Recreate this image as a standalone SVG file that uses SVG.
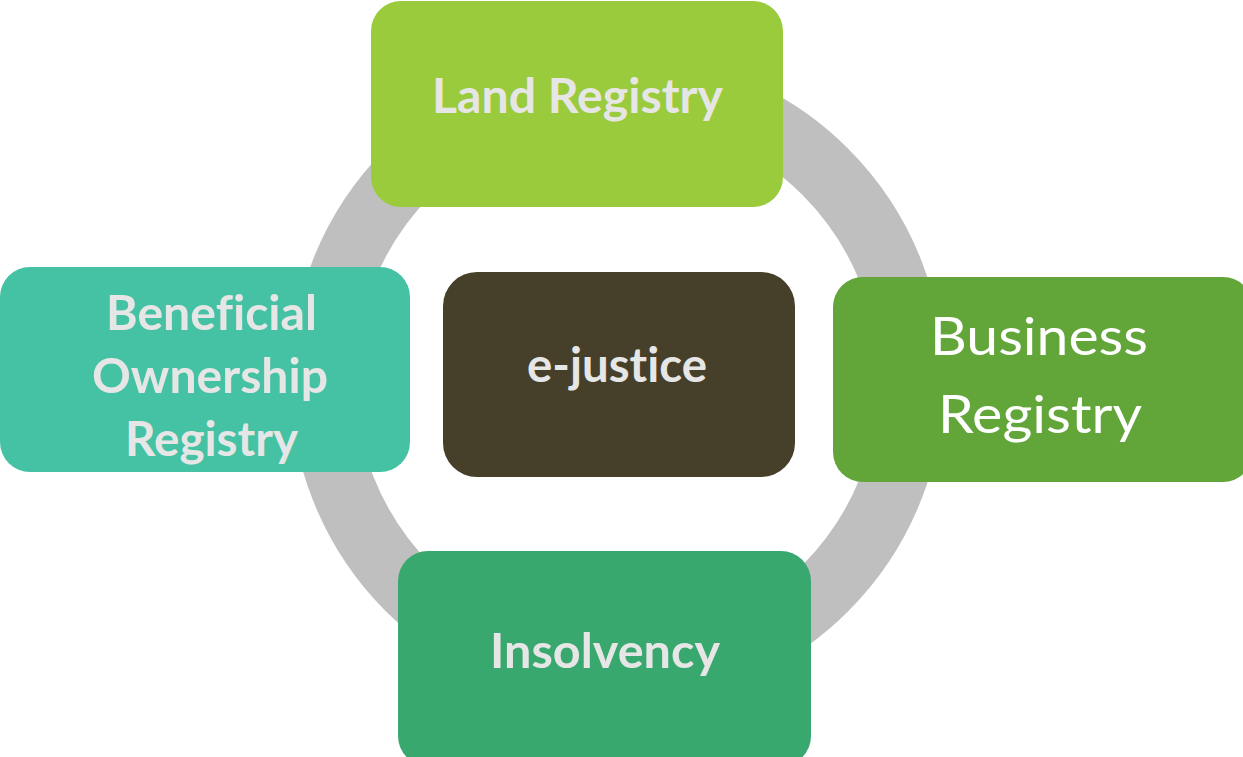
<svg xmlns="http://www.w3.org/2000/svg" width="1243" height="757" viewBox="0 0 1243 757">
<style>
text{font-variant-ligatures:none;font-feature-settings:"liga" 0,"clig" 0,"dlig" 0}
.lbl{font-family:Lato,"Open Sans","Liberation Sans",sans-serif;font-weight:700;fill:#E7E6E6;text-anchor:middle}
.lblw{font-family:Lato,"Open Sans","Liberation Sans",sans-serif;font-weight:400;fill:#FFFFFF;text-anchor:middle}
</style>
<rect width="1243" height="757" fill="#FFFFFF"/>
<g id="connectors">
<circle cx="617" cy="380" r="294.5" fill="none" stroke="#BFBFBF" stroke-width="65"/>
</g>
<g id="land-registry">
<rect x="371" y="1" width="412" height="206" rx="30" fill="#9ACB3C"/>
<text class="lbl" x="577.5" y="113" font-size="47" textLength="291" lengthAdjust="spacingAndGlyphs">Land Registry</text>
</g>
<g id="beneficial-ownership">
<rect x="0" y="267" width="410" height="205" rx="30" fill="#44C2A3"/>
<text class="lbl" x="211.5" y="330" font-size="48" textLength="211" lengthAdjust="spacingAndGlyphs">Beneficial</text>
<text class="lbl" x="210" y="393" font-size="48" textLength="236" lengthAdjust="spacingAndGlyphs">Ownership</text>
<text class="lbl" x="211.5" y="456" font-size="48" textLength="173" lengthAdjust="spacingAndGlyphs">Registry</text>
</g>
<g id="business-registry">
<rect x="833" y="277" width="420" height="205" rx="30" fill="#62A539"/>
<text class="lblw" x="1039" y="355" font-size="53" textLength="218" lengthAdjust="spacingAndGlyphs">Business</text>
<text class="lblw" x="1040" y="433" font-size="53" textLength="204" lengthAdjust="spacingAndGlyphs">Registry</text>
</g>
<g id="insolvency">
<rect x="398" y="551" width="413" height="215" rx="30" fill="#38A86F"/>
<text class="lbl" x="605" y="668" font-size="48" textLength="230" lengthAdjust="spacingAndGlyphs">Insolvency</text>
</g>
<g id="e-justice">
<rect x="443" y="272" width="352" height="205" rx="34" fill="#463F29"/>
<text class="lbl" x="617" y="382" font-size="48" textLength="180" lengthAdjust="spacingAndGlyphs">e-justice</text>
</g>
</svg>
